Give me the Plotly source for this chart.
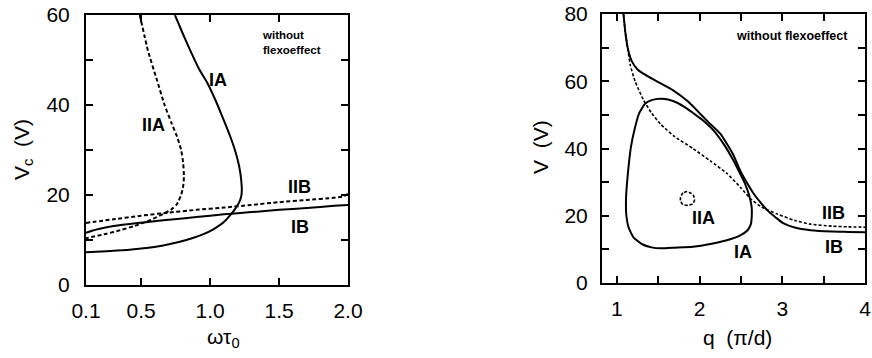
import plotly.graph_objects as go

# ---------------- left panel: threshold voltage vs. frequency ----------------
ia_w = [0.745, 0.80, 0.855, 0.92, 0.98, 1.04, 1.09, 1.14, 1.18, 1.21, 1.225, 1.23,
        1.225, 1.21, 1.19, 1.17, 1.14, 1.11, 1.07, 1.02, 0.96, 0.88, 0.78, 0.66,
        0.54, 0.40, 0.25, 0.10]
ia_v = [60, 56, 52.2, 48, 44.9, 41, 37.3, 33.5, 30, 26.5, 23.5, 21,
        19.6, 18.3, 17.3, 16.4, 15.3, 14.3, 13.3, 12.3, 11.4, 10.5, 9.6, 8.8,
        8.2, 7.8, 7.5, 7.3]

iia_w = [0.49, 0.55, 0.61, 0.67, 0.72, 0.76, 0.79, 0.805, 0.81, 0.805, 0.79, 0.76,
         0.72, 0.66, 0.60, 0.54, 0.45, 0.35, 0.25, 0.10]
iia_v = [60, 52, 46, 40, 36, 33, 30, 27, 24, 22, 20, 18,
         16.8, 15.8, 14.9, 14.1, 13.1, 12.2, 11.4, 10.4]

ib_w = [0.10, 0.15, 0.20, 0.30, 0.40, 0.55, 0.70, 0.90, 1.10, 1.30, 1.50, 1.70, 1.90, 2.00]
ib_v = [11.6, 12.1, 12.5, 13.1, 13.5, 14.0, 14.5, 15.1, 15.7, 16.2, 16.7, 17.1, 17.6, 17.8]

iib_w = [0.10, 0.30, 0.50, 0.70, 0.90, 1.10, 1.30, 1.50, 1.70, 1.90, 1.97, 2.00]
iib_v = [13.8, 14.6, 15.4, 16.1, 16.7, 17.2, 17.8, 18.4, 18.9, 19.4, 19.7, 20.3]

# ---------------- right panel: neutral curves V(q) ----------------
ib_q = [1.08, 1.10, 1.13, 1.18, 1.25, 1.37, 1.52, 1.68, 1.85, 1.93, 2.10, 2.25, 2.40,
        2.49, 2.58, 2.65, 2.74, 2.82, 2.92, 3.01, 3.15, 3.34, 3.60, 3.80, 4.00]
ib_vq = [80, 75, 70, 66, 63.5, 61.5, 59.5, 57.3, 54.2, 52.3, 48, 44.4, 38.5,
         33.5, 29.5, 26.7, 23.8, 21.6, 19.5, 17.8, 16.5, 15.7, 15.3, 15.2, 15.1]

iib_q = [1.08, 1.10, 1.13, 1.16, 1.22, 1.32, 1.42, 1.53, 1.70, 1.92, 2.13, 2.33, 2.50,
         2.61, 2.75, 2.94, 3.15, 3.34, 3.60, 3.80, 4.00]
iib_vq = [80, 75, 70, 65, 60, 54.5, 50.5, 47.2, 43.5, 40.0, 36.3, 32.6, 28.3,
          25.2, 22.6, 20.5, 18.6, 17.5, 16.9, 16.7, 16.6]

ia_q = [1.53, 1.42, 1.34, 1.27, 1.22, 1.17, 1.14, 1.12, 1.11, 1.115, 1.14, 1.20, 1.30,
        1.42, 1.53, 1.70, 1.92, 2.13, 2.33, 2.48, 2.58, 2.62, 2.63, 2.63, 2.60, 2.55,
        2.48, 2.41, 2.30, 2.17, 2.05, 1.93, 1.82, 1.73, 1.63, 1.53]
ia_vq = [54.8, 54.4, 53.3, 50.5, 46.3, 40.5, 34.4, 29, 24.6, 20, 16.6, 13.6, 11.6,
         10.6, 10.3, 10.5, 10.8, 11.6, 12.7, 14.0, 15.7, 17.5, 19.5, 22.5, 26.0, 29.5,
         33.0, 36.4, 41.0, 45.3, 48.2, 50.4, 52.3, 53.6, 54.5, 54.8]

iia_q = [1.85, 1.80, 1.77, 1.77, 1.80, 1.86, 1.92, 1.94, 1.92, 1.85]
iia_vq = [27.2, 26.8, 25.6, 24.3, 23.3, 23.1, 23.6, 24.8, 26.3, 27.2]

# tick definitions (labelled majors, unlabelled minors)
left_xticks = [0.1, 0.5, 1.0, 1.5, 2.0]
left_xlabels = ["0.1", "0.5", "1.0", "1.5", "2.0"]
left_yticks = [0, 20, 40, 60]
left_yminor = [10, 30, 50]
right_xticks = [1, 2, 3, 4]
right_xminor = [1.5, 2.5, 3.5]
right_yticks = [0, 20, 40, 60, 80]
right_yminor = [10, 30, 50, 70]

FONT = "Liberation Sans, Arial, sans-serif"
solid = dict(color="black", width=2, shape="spline", smoothing=0.5)
dashed = dict(color="black", width=2, dash="4px,2.5px", shape="spline", smoothing=0.5)
dashed_thin = dict(color="black", width=1.6, dash="3px,2px", shape="spline", smoothing=0.5)

fig = go.Figure()
fig.add_trace(go.Scatter(x=ia_w, y=ia_v, mode="lines", line=solid, xaxis="x", yaxis="y"))
fig.add_trace(go.Scatter(x=iia_w, y=iia_v, mode="lines", line=dashed, xaxis="x", yaxis="y"))
fig.add_trace(go.Scatter(x=ib_w, y=ib_v, mode="lines", line=solid, xaxis="x", yaxis="y"))
fig.add_trace(go.Scatter(x=iib_w, y=iib_v, mode="lines", line=dashed, xaxis="x", yaxis="y"))

fig.add_trace(go.Scatter(x=ib_q, y=ib_vq, mode="lines", line=solid, xaxis="x2", yaxis="y2"))
fig.add_trace(go.Scatter(x=iib_q, y=iib_vq, mode="lines", line=dashed_thin, xaxis="x2", yaxis="y2"))
fig.add_trace(go.Scatter(x=ia_q, y=ia_vq, mode="lines", line=solid, xaxis="x2", yaxis="y2"))
fig.add_trace(go.Scatter(x=iia_q, y=iia_vq, mode="lines", line=dashed_thin, xaxis="x2", yaxis="y2"))

axis_common = dict(
    showline=True, linecolor="black", linewidth=2, mirror="ticks",
    ticks="inside", ticklen=7, tickwidth=1.5, tickcolor="black",
    showgrid=False, zeroline=False, automargin=False,
    tickfont=dict(family=FONT, size=21, color="black"),
)


def minor(vals):
    return dict(tickmode="array", tickvals=vals, ticks="inside", ticklen=7,
                tickwidth=1.5, tickcolor="black", showgrid=False)


W, H = 872, 358
fig.update_layout(
    width=W, height=H,
    margin=dict(l=0, r=0, t=0, b=0, pad=0),
    paper_bgcolor="white", plot_bgcolor="white",
    showlegend=False,
    xaxis=dict(axis_common, domain=[86 / W, 348 / W], range=[0.1, 2.0], anchor="y",
               tickmode="array", tickvals=left_xticks, ticktext=left_xlabels,
               ticklabelstandoff=6),
    yaxis=dict(axis_common, domain=[(H - 285) / H, (H - 15) / H], range=[0, 60], anchor="x",
               tickmode="array", tickvals=left_yticks, ticklabelstandoff=10,
               minor=minor(left_yminor)),
    xaxis2=dict(axis_common, domain=[602 / W, 865 / W], range=[0.82, 4.0], anchor="y2",
                tickmode="array", tickvals=right_xticks, ticklabelstandoff=6,
                minor=minor(right_xminor)),
    yaxis2=dict(axis_common, domain=[(H - 283) / H, (H - 14) / H], range=[0, 80], anchor="x2",
                tickmode="array", tickvals=right_yticks, ticklabelstandoff=8,
                minor=minor(right_yminor)),
)

lab = dict(family=FONT, size=18, color="black")
small = dict(family=FONT, size=11.5, color="black")
small_wide = dict(family=FONT, size=12.5, color="black")
title_font = dict(family=FONT, size=21, color="black")

annotations = [
    # curve labels, left panel
    dict(x=1.06, y=45.5, xref="x", yref="y", text="<b>IA</b>", font=lab),
    dict(x=0.59, y=35.5, xref="x", yref="y", text="<b>IIA</b>", font=lab),
    dict(x=1.65, y=21.8, xref="x", yref="y", text="<b>IIB</b>", font=lab),
    dict(x=1.65, y=12.9, xref="x", yref="y", text="<b>IB</b>", font=lab),
    dict(x=1.36, y=53.8, xref="x", yref="y", text="<b>without<br>flexoeffect</b>",
         font=small, xanchor="left", align="left"),
    # curve labels, right panel
    dict(x=2.05, y=19.3, xref="x2", yref="y2", text="<b>IIA</b>", font=lab),
    dict(x=2.52, y=9.2, xref="x2", yref="y2", text="<b>IA</b>", font=lab),
    dict(x=3.62, y=20.7, xref="x2", yref="y2", text="<b>IIB</b>", font=lab),
    dict(x=3.62, y=10.7, xref="x2", yref="y2", text="<b>IB</b>", font=lab),
    dict(x=3.82, y=73.5, xref="x2", yref="y2", text="<b>without flexoeffect</b>",
         font=small_wide, xanchor="right"),
    # axis titles
    dict(x=223 / W, y=(H - 338) / H, xref="paper", yref="paper",
         text="\u03c9\u03c4<sub>0</sub>", font=title_font),
    dict(x=23 / W, y=(H - 150) / H, xref="paper", yref="paper",
         text="V<sub>c</sub>  (V)", font=title_font, textangle=-90),
    dict(x=737 / W, y=(H - 337) / H, xref="paper", yref="paper",
         text="q  (\u03c0/d)", font=title_font),
    dict(x=540 / W, y=(H - 147) / H, xref="paper", yref="paper",
         text="V  (V)", font=title_font, textangle=-90),
]
for a in annotations:
    a.setdefault("showarrow", False)
    a.setdefault("xanchor", "center")
    a.setdefault("yanchor", "middle")
fig.update_layout(annotations=annotations)

fig.write_html("out.html")
